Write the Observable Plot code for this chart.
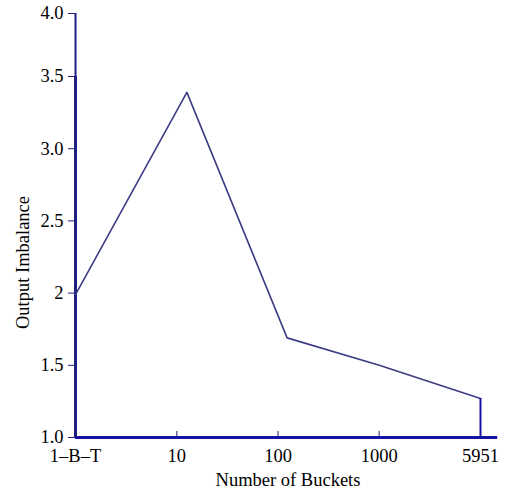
<!DOCTYPE html>
<html>
<head>
<meta charset="utf-8">
<script src="https://cdn.jsdelivr.net/npm/d3@7"></script>
<script src="https://cdn.jsdelivr.net/npm/@observablehq/plot@0.6"></script>
<style>
  html, body { margin: 0; padding: 0; background: #fff; }
  #chart { width: 508px; height: 494px; }
</style>
</head>
<body>
<div id="chart"></div>
<script>
// Categories along the x axis (index positions) and their labels
const xTickPos = [0, 1, 2, 3, 4];
const xTickLabels = ["1\u2013B\u2013T", "10", "100", "1000", "5951"];
// Series: output imbalance versus number of buckets
const seriesX = [0, 1.1, 2.09, 3, 4];
const seriesY = [1.99, 3.39, 1.69, 1.50, 1.27];
// Y ticks and their printed labels
const yTicks = [1, 1.5, 2, 2.5, 3, 3.5, 4];
const yTickLabels = ["1.0", "1.5", "2", "2.5", "3.0", "3.5", "4.0"];
const yLabel = "Output Imbalance";
const xLabel = "Number of Buckets";

const series = seriesX.map((x, i) => ({x, y: seriesY[i]}));
const last = series[series.length - 1];

const navy = "#1f1f82";
const blue = "#1414a0";
const lineColor = "#3c3c84";

const chart = Plot.plot({
  width: 508,
  height: 494,
  marginLeft: 75,
  marginRight: 28,
  marginTop: 13,
  marginBottom: 57,
  style: {fontFamily: "'Liberation Serif', 'Times New Roman', serif", fontSize: "18.5px", color: "black", background: "white"},
  x: {type: "linear", domain: [0, 4], range: [75, 480]},
  y: {type: "linear", domain: [1, 3.5, 4], range: [437, 76, 13]},
  marks: [
    Plot.axisY({ticks: yTicks, tickFormat: (d) => yTickLabels[yTicks.indexOf(d)], tickSize: 7, tickPadding: 5, stroke: navy, fill: "black", label: null}),
    Plot.axisX({ticks: xTickPos, tickFormat: (d) => xTickLabels[xTickPos.indexOf(d)], tickSize: 0, tickPadding: 11, fill: "black", label: null}),
    Plot.ruleX(xTickPos.slice(1, 4), {y1: 1, y2: 1, insetTop: -6, stroke: "#6a6aa0", strokeWidth: 1.5}),
    // y axis line
    Plot.ruleX([0], {y1: 1, y2: 4, stroke: navy, strokeWidth: 2}),
    Plot.ruleX([0], {y1: 1, y2: 3.5, stroke: navy, strokeWidth: 3}),
    // series line
    Plot.line(series, {x: "x", y: "y", stroke: lineColor, strokeWidth: 1.6}),
    Plot.ruleX([last], {x: "x", y1: 1, y2: "y", stroke: blue, strokeWidth: 2}),
    // baseline
    Plot.ruleY([1], {x1: 0, x2: 4.17, stroke: blue, strokeWidth: 3}),
    Plot.text([yLabel], {frameAnchor: "left", textAnchor: "middle", lineAnchor: "middle", rotate: -90, dx: -52, dy: 37, fill: "black"}),
    Plot.text([xLabel], {frameAnchor: "bottom", textAnchor: "middle", lineAnchor: "middle", dx: 10, dy: 43, fill: "black"})
  ]
});
document.getElementById("chart").appendChild(chart);
</script>
</body>
</html>
